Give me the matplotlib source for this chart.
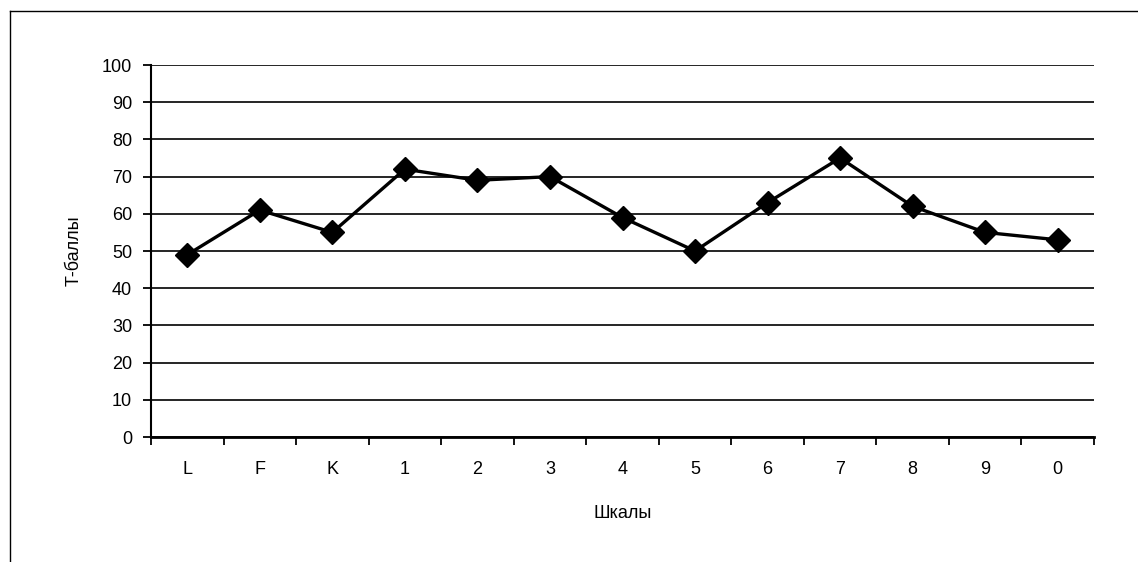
import numpy as np
import matplotlib.pyplot as plt
from matplotlib.lines import Line2D

scales = ["L", "F", "K", "1", "2", "3", "4", "5", "6", "7", "8", "9", "0"]
t_scores = [49, 61, 55, 72, 69, 70, 59, 50, 63, 75, 62, 55, 53]
y_ticks = list(range(0, 101, 10))

plt.rcParams['font.family'] = ['Liberation Sans', 'DejaVu Sans']

W, H = 1138, 562
fig = plt.figure(figsize=(W / 100, H / 100), dpi=100)
ax = fig.add_axes([151 / W, 1 - 437 / H, (1094 - 151) / W, (437 - 65) / H])

x = np.arange(len(scales))
ax.plot(x, t_scores, color="black", lw=2.4, marker="D", ms=12, zorder=3, clip_on=False)

ax.set_xlim(-0.5, len(scales) - 0.5)
ax.set_ylim(0, 100)
ax.set_yticks(y_ticks)
ax.set_xticks(x)
ax.set_xticklabels(scales)
ax.set_xticks(np.arange(-0.5, len(scales), 1), minor=True)
ax.tick_params(axis="x", which="major", length=0, pad=17, labelsize=13)
ax.tick_params(axis="x", which="minor", length=6, width=1.3, direction="out")
ax.tick_params(axis="y", length=6, width=1.3, direction="out", pad=7.5, labelsize=13)

ax.grid(axis="y", color="black", lw=1.2)
ax.set_axisbelow(True)
for s in ["top", "right"]:
    ax.spines[s].set_visible(False)
ax.spines["bottom"].set_linewidth(2)
ax.spines["left"].set_linewidth(1.5)

ax.set_ylabel("Т-баллы", fontsize=13, labelpad=14)
ax.set_xlabel("Шкалы", fontsize=13, labelpad=20)

# outer chart frame (clipped by the image on right and bottom)
fig.add_artist(Line2D([10 / W, 1], [1 - 11 / H, 1 - 11 / H], color="black", lw=1, transform=fig.transFigure))
fig.add_artist(Line2D([10 / W, 10 / W], [1 - 11 / H, 0], color="black", lw=1, transform=fig.transFigure))

fig.savefig("out.png", dpi=100)
